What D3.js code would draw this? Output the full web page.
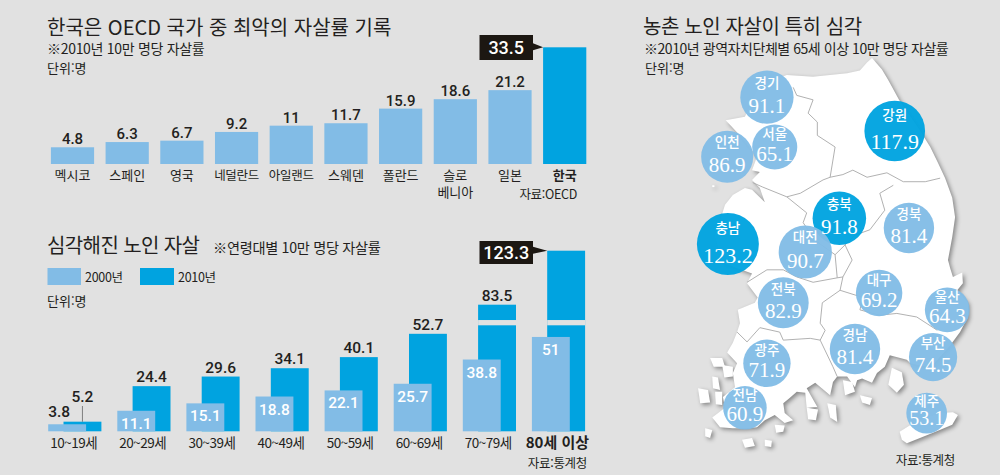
<!DOCTYPE html>
<html lang="ko">
<head>
    <meta charset="UTF-8">
    <title>노인 자살률</title>
    <script src="https://d3js.org/d3.v7.min.js"></script>
    <style>
        body { margin: 0; background: #e1e1e1; }
        svg { display: block; }
        text { font-family: "Noto Sans CJK KR", sans-serif; fill: #231f20; }
        .num { font-family: Roboto, sans-serif; font-weight: 500; }
        .serif { font-family: "Liberation Serif", serif; fill: #fff; }
    </style>
</head>
<body>
    <svg id="chart" width="1000" height="475"></svg>

    <script>
        const oecdCountries = ["멕시코", "스페인", "영국", "네덜란드", "아일랜드", "스웨덴", "폴란드", "슬로베니아", "일본", "한국"];
        const oecdRates = [4.8, 6.3, 6.7, 9.2, 11, 11.7, 15.9, 18.6, 21.2, 33.5];

        const ageGroups = ["10~19세", "20~29세", "30~39세", "40~49세", "50~59세", "60~69세", "70~79세", "80세 이상"];
        const rates2000 = [3.8, 11.1, 15.1, 18.8, 22.1, 25.7, 38.8, 51];
        const rates2010 = [5.2, 24.4, 29.6, 34.1, 40.1, 52.7, 83.5, 123.3];

        const regionNames = ["경기", "강원", "서울", "인천", "충북", "경북", "충남", "대전", "대구", "울산", "전북", "경남", "부산", "광주", "전남", "제주"];
        const regionRates = [91.1, 117.9, 65.1, 86.9, 91.8, 81.4, 123.2, 90.7, 69.2, 64.3, 82.9, 81.4, 74.5, 71.9, 60.9, 53.1];
        const regionLons = [126.83, 128.63, 126.94, 126.27, 127.85, 128.83, 126.28, 127.37, 128.41, 129.37, 127.06, 128.07, 129.17, 126.83, 126.52, 129.08];
        const regionLats = [38.16, 37.78, 37.60, 37.49, 36.80, 36.69, 36.51, 36.42, 35.96, 35.77, 35.85, 35.33, 35.24, 35.17, 34.67, 34.61];

        // map shapes, lon/lat pairs (jeju sits in an inset as in the print map)
        const mainland = [[128.31,38.60],[128.45,38.47],[128.54,38.35],[128.69,38.13],[128.99,37.78],[129.13,37.60],[129.24,37.42],[129.34,37.25],[129.44,37.03],[129.48,36.81],[129.44,36.59],[129.38,36.33],[129.41,36.24],[129.45,36.14],[129.58,36.19],[129.59,36.07],[129.51,35.99],[129.66,35.85],[129.66,35.69],[129.55,35.52],[129.41,35.37],[129.13,35.12],[128.85,35.17],[128.80,35.21],[128.56,35.26],[128.49,35.13],[128.38,35.06],[128.31,34.95],[128.17,35.00],[128.10,34.98],[128.07,34.90],[127.96,35.02],[127.82,35.02],[127.76,34.96],[127.72,34.81],[127.51,34.95],[127.39,34.89],[127.54,34.68],[127.39,34.67],[127.37,34.84],[127.25,34.85],[127.15,34.78],[127.06,34.72],[127.08,34.61],[127.20,34.53],[127.08,34.50],[126.94,34.59],[126.80,34.53],[126.69,34.45],[126.52,34.44],[126.35,34.44],[126.17,34.45],[126.06,34.56],[126.24,34.67],[126.21,34.79],[126.38,34.90],[126.35,35.06],[126.41,35.17],[126.27,35.29],[126.35,35.40],[126.41,35.52],[126.45,35.62],[126.42,35.77],[126.66,35.85],[126.70,35.91],[126.55,36.07],[126.62,36.18],[126.20,36.30],[126.10,36.60],[126.24,36.95],[126.35,37.06],[126.52,37.14],[126.62,37.12],[126.80,36.98],[126.73,37.14],[126.62,37.23],[126.73,37.32],[126.62,37.34],[126.69,37.49],[126.45,37.73],[126.25,37.90],[126.52,37.94],[126.73,38.30],[127.11,38.41],[127.48,38.39],[127.96,38.43],[128.14,38.46],[128.24,38.55]];
        const islands = [
            [[128.59,35.12],[128.73,35.07],[128.76,34.93],[128.66,34.84],[128.54,34.93]],
            [[127.90,34.98],[128.03,34.96],[128.07,34.85],[127.93,34.81]],
            [[128.14,34.81],[128.31,34.78],[128.28,34.70],[128.17,34.73]],
            [[127.68,34.72],[127.80,34.70],[127.82,34.51],[127.72,34.56]],
            [[127.39,34.67],[127.55,34.65],[127.52,34.53],[127.41,34.54]],
            [[126.94,34.48],[127.08,34.47],[127.06,34.40],[126.96,34.39]],
            [[126.03,35.23],[126.20,35.23],[126.24,35.13],[126.08,35.13]],
            [[126.20,35.15],[126.35,35.13],[126.35,35.02],[126.23,35.01]],
            [[126.06,35.02],[126.14,35.01],[126.17,34.87],[126.07,34.89]],
            [[125.86,34.89],[126.00,34.87],[126.03,34.73],[125.89,34.72]],
            [[126.10,34.85],[126.20,34.85],[126.20,34.70],[126.11,34.71]],
            [[125.96,34.44],[126.06,34.42],[126.03,34.33],[125.96,34.35]],
            [[126.48,34.31],[126.62,34.33],[126.66,34.24],[126.52,34.22]],
            [[126.80,34.31],[126.90,34.30],[126.89,34.23],[126.80,34.24]],
            [[126.06,37.17],[126.09,37.17],[126.09,37.15],[126.06,37.15]],
            [[128.70,34.40],[128.92,34.51],[129.27,34.61],[129.45,34.62],[129.52,34.59],[129.44,34.48],[129.17,34.39],[128.80,34.27],[128.73,34.31]]
        ];
        const borders = [
            [[127.20,38.27],[127.25,38.18],[127.48,38.13],[127.41,37.98],[127.54,37.88],[127.54,37.73],[127.79,37.60],[127.72,37.26]],
            [[127.72,37.26],[127.90,37.29],[128.04,37.34],[128.24,37.26],[128.52,37.31],[128.75,37.21],[129.06,37.21],[129.27,37.25]],
            [[127.72,37.26],[127.62,37.23],[127.30,37.08],[127.11,37.04],[126.77,37.15],[126.63,37.20]],
            [[128.61,37.17],[128.42,37.08],[128.49,36.89],[128.28,36.67],[128.07,36.61],[127.93,36.50],[128.03,36.33],[127.90,36.14]],
            [[127.11,37.04],[127.39,36.86],[127.34,36.75],[127.51,36.55],[127.79,36.39],[127.82,36.13]],
            [[127.79,36.39],[127.93,36.50]],
            [[126.55,36.08],[126.83,36.22],[127.06,36.22],[127.25,36.14],[127.48,36.08],[127.82,36.13],[127.90,36.14]],
            [[127.90,36.14],[127.86,35.99],[127.61,35.85],[127.58,35.62],[127.65,35.54],[127.58,35.43],[127.76,35.13],[127.82,35.02]],
            [[127.86,35.99],[128.18,35.91],[128.14,35.77],[128.42,35.71],[128.66,35.73],[128.94,35.69],[129.23,35.54]],
            [[126.41,35.52],[126.55,35.41],[126.73,35.57],[127.01,35.52],[127.06,35.43],[127.44,35.45],[127.58,35.43]]
        ];

        const LIGHT = "#82bce6", DARK = "#00a3e0", INK = "#1c1712";
        const svg = d3.select("#chart");

        function label(x, y, str, size, opts) {
            opts = opts || {};
            return svg.append("text")
                .attr("x", x).attr("y", y)
                .attr("font-size", size)
                .attr("text-anchor", opts.anchor || "start")
                .attr("class", opts.cls || null)
                .attr("font-weight", opts.weight || null)
                .attr("letter-spacing", opts.spacing || null)
                .style("fill", opts.fill || null)
                .text(str);
        }

        function flag(x0, x1, top, bottom, tipX, tipY, str) {
            svg.append("path")
                .attr("fill", INK)
                .attr("d", d3.line()([[x0, top], [x1, top], [x1, tipY - 4], [tipX, tipY], [x1, tipY + 3], [x1, bottom], [x0, bottom]]) + "Z");
            label((x0 + x1) / 2, top + (bottom - top) / 2 + 6.5, str, 18, {anchor: "middle", cls: "num", weight: 700, fill: "#fff"});
        }

        // top chart: OECD
        label(47, 34.5, "한국은 OECD 국가 중 최악의 자살률 기록", 20, {});
        label(47, 54, "※2010년 10만 명당 자살률", 14, {spacing: -0.3});
        label(47, 73, "단위:명", 13);

        const xOecd = d3.scaleBand().domain(oecdCountries).range([50.9, 586.3]).paddingInner(0.21);
        const yOecd = d3.scaleLinear().domain([0, 33.5]).range([164, 47.3]);

        svg.append("g").selectAll("rect").data(oecdCountries).join("rect")
            .attr("x", d => xOecd(d))
            .attr("y", (d, i) => yOecd(oecdRates[i]))
            .attr("width", xOecd.bandwidth())
            .attr("height", (d, i) => yOecd(0) - yOecd(oecdRates[i]))
            .attr("fill", d => d === "한국" ? DARK : LIGHT);

        oecdCountries.forEach((d, i) => {
            const cx = xOecd(d) + xOecd.bandwidth() / 2;
            if (d !== "한국") {
                label(cx, yOecd(oecdRates[i]) - 3, oecdRates[i], 15, {anchor: "middle", cls: "num"});
            }
            if (d === "슬로베니아") {
                label(cx, 180, "슬로", 13, {anchor: "middle"});
                label(cx, 197, "베니아", 13, {anchor: "middle"});
            } else {
                label(cx, 180, d, d.length > 3 ? 12.5 : 13, {anchor: "middle", weight: d === "한국" ? 700 : null, spacing: d.length > 3 ? -0.3 : null});
            }
        });
        flag(479.5, 533, 35, 60, xOecd("한국"), yOecd(33.5), "33.5");
        label(577, 199, "자료:OECD", 12.5, {anchor: "end", spacing: -0.3});

        // bottom chart: age groups, y has a break above 60
        label(47, 253, "심각해진 노인 자살", 20, {spacing: -0.6});
        label(213, 253, "※연령대별 10만 명당 자살률", 14.2, {spacing: -0.3});
        svg.append("rect").attr("x", 47.5).attr("y", 268).attr("width", 33.5).attr("height", 17).attr("fill", LIGHT);
        label(85, 282, "2000년", 12.5, {spacing: -0.3});
        svg.append("rect").attr("x", 140).attr("y", 268).attr("width", 34).attr("height", 17).attr("fill", DARK);
        label(178, 282, "2010년", 12.5, {spacing: -0.3});
        label(47, 306, "단위:명", 13);

        const xAge = d3.scaleBand().domain(ageGroups).range([48.2, 601]);
        const yAge = d3.scaleLinear().domain([0, 57.3, 83.5, 123.3]).range([431.3, 325.3, 304.7, 250.7]);
        const ageBarW = 37.9, ageOffset = 15.3;
        const axisBreak = [57.3, 64];

        svg.append("g").selectAll("rect").data(ageGroups).join("rect")
            .attr("x", d => xAge(d) + ageOffset)
            .attr("y", (d, i) => yAge(rates2010[i]))
            .attr("width", ageBarW)
            .attr("height", (d, i) => yAge(0) - yAge(rates2010[i]))
            .attr("fill", DARK);

        svg.append("g").selectAll("rect").data(ageGroups.filter((d, i) => rates2010[i] > axisBreak[1])).join("rect")
            .attr("x", d => xAge(d) + ageOffset)
            .attr("y", yAge(axisBreak[1]))
            .attr("width", ageBarW)
            .attr("height", yAge(axisBreak[0]) - yAge(axisBreak[1]))
            .attr("fill", "#e1e1e1");

        svg.append("g").selectAll("rect").data(ageGroups).join("rect")
            .attr("x", d => xAge(d))
            .attr("y", (d, i) => yAge(rates2000[i]))
            .attr("width", ageBarW)
            .attr("height", (d, i) => yAge(0) - yAge(rates2000[i]))
            .attr("fill", LIGHT);

        ageGroups.forEach((d, i) => {
            const x = xAge(d);
            const last = d === "80세 이상";
            label(x + 25.5, 448, d, last ? 15 : 13.5, {anchor: "middle", weight: last ? 700 : null, spacing: last ? null : -0.5});
            if (i === 0) {
                label(x + 11, 417, rates2000[i], 15.5, {anchor: "middle", cls: "num"});
                label(x + ageOffset + ageBarW / 2, 402, rates2010[i], 15.5, {anchor: "middle", cls: "num"});
                svg.append("line")
                    .attr("x1", x + ageOffset + ageBarW / 2).attr("x2", x + ageOffset + ageBarW / 2)
                    .attr("y1", 406).attr("y2", yAge(rates2010[i]))
                    .attr("stroke", "#555").attr("stroke-width", 0.7);
            } else {
                label(x + ageBarW / 2, yAge(rates2000[i]) + 18, rates2000[i], 15.5, {anchor: "middle", cls: "num", fill: "#fff"});
                if (!last) label(x + ageOffset + ageBarW / 2, yAge(rates2010[i]) - 4, rates2010[i], 15.5, {anchor: "middle", cls: "num"});
            }
        });
        flag(479.5, 533, 241, 264, xAge("80세 이상") + ageOffset, yAge(123.3), "123.3");
        label(587, 468, "자료:통계청", 12.5, {anchor: "end", spacing: -0.3});

        // right panel: map
        label(643, 33.5, "농촌 노인 자살이 특히 심각", 20, {spacing: -0.4});
        label(644, 54, "※2010년 광역자치단체별 65세 이상 10만 명당 자살률", 14, {spacing: -0.45});
        label(645, 73, "단위:명", 13);

        const mapX = d3.scaleLinear().domain([128, 129]).range([850, 921]);
        const mapY = d3.scaleLinear().domain([38.6, 37.6]).range([58, 147]);
        const mapLine = d3.line().x(d => mapX(d[0])).y(d => mapY(d[1]));

        svg.append("g").style("filter", "drop-shadow(2px 2px 2px rgba(0,0,0,0.4))")
            .selectAll("path").data([mainland].concat(islands)).join("path")
            .attr("d", d => mapLine(d) + "Z")
            .attr("fill", "#fff");

        svg.append("g").selectAll("path").data(borders).join("path")
            .attr("d", mapLine)
            .attr("fill", "none")
            .attr("stroke", "#a8a8a8")
            .attr("stroke-width", 0.9);

        const rScale = d3.scaleSqrt().domain([0, 123.2]).range([0, 31]);
        const bubbleColor = d3.scaleThreshold().domain([91.5]).range([LIGHT, DARK]);

        svg.append("g").selectAll("circle").data(regionNames).join("circle")
            .attr("cx", (d, i) => mapX(regionLons[i]))
            .attr("cy", (d, i) => mapY(regionLats[i]))
            .attr("r", (d, i) => rScale(regionRates[i]))
            .attr("fill", (d, i) => bubbleColor(regionRates[i]))
            .attr("fill-opacity", 0.96);

        regionNames.forEach((d, i) => {
            const r = rScale(regionRates[i]);
            const cx = mapX(regionLons[i]), cy = mapY(regionLats[i]);
            label(cx, cy - r * 0.36, d, 13.5, {anchor: "middle", fill: "#fff", weight: 500});
            label(cx, cy + r * 0.6, regionRates[i], r > 28 ? 22 : (r > 21 ? 21 : 20), {anchor: "middle", cls: "serif"});
        });
        label(955, 465, "자료:통계청", 12.5, {anchor: "end", spacing: -0.3});
    </script>
</body>
</html>
